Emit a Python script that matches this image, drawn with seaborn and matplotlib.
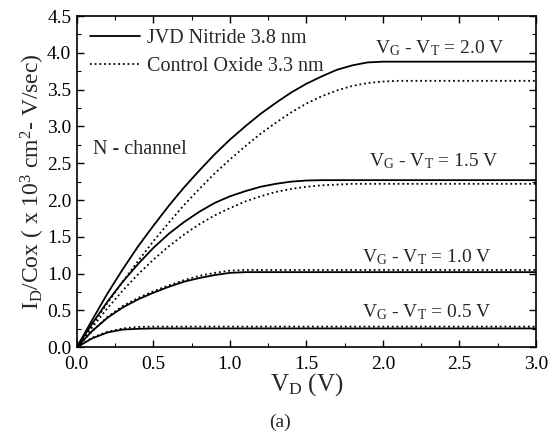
import numpy as np
import pandas as pd
import matplotlib
matplotlib.use("Agg")
import matplotlib.pyplot as plt
from matplotlib.ticker import MultipleLocator, FormatStrFormatter
import seaborn as sns

# Drain voltage grids (V)
vd_20n = [0, 0.1, 0.2, 0.3, 0.4, 0.5, 0.6, 0.7, 0.8, 0.9, 1.0, 1.1, 1.2, 1.3, 1.4,
          1.5, 1.6, 1.7, 1.8, 1.9, 2.0, 3.0]
vd_20o = [0, 0.1, 0.2, 0.3, 0.4, 0.5, 0.6, 0.7, 0.8, 0.9, 1.0, 1.1, 1.2, 1.3, 1.4,
          1.5, 1.6, 1.7, 1.8, 1.9, 2.0, 2.1, 3.0]
vd_15n = [0, 0.1, 0.2, 0.3, 0.4, 0.5, 0.6, 0.7, 0.8, 0.9, 1.0, 1.1, 1.2, 1.3, 1.4,
          1.5, 1.6, 3.0]
vd_15o = [0, 0.1, 0.2, 0.3, 0.4, 0.5, 0.6, 0.7, 0.8, 0.9, 1.0, 1.1, 1.2, 1.3, 1.4,
          1.5, 1.6, 1.7, 1.8, 3.0]
vd_10 = [0, 0.1, 0.2, 0.3, 0.4, 0.5, 0.6, 0.7, 0.8, 0.9, 1.0, 1.1, 3.0]
vd_05 = [0, 0.1, 0.2, 0.3, 0.4, 0.5, 3.0]

# I_D/Cox (x 10^3 cm^2-V/sec), JVD nitride 3.8 nm
nit_20 = [0, 0.37, 0.73, 1.06, 1.37, 1.65, 1.92, 2.17, 2.40, 2.62, 2.82, 3.00, 3.17,
          3.32, 3.46, 3.58, 3.68, 3.77, 3.83, 3.87, 3.88, 3.88]
nit_15 = [0, 0.32, 0.62, 0.89, 1.13, 1.35, 1.54, 1.70, 1.84, 1.96, 2.05, 2.12, 2.18,
          2.22, 2.25, 2.265, 2.27, 2.27]
nit_10 = [0, 0.22, 0.40, 0.54, 0.65, 0.74, 0.82, 0.89, 0.94, 0.98, 1.01, 1.02, 1.02]
nit_05 = [0, 0.12, 0.20, 0.24, 0.25, 0.255, 0.255]

# Control oxide 3.3 nm
ox_20 = [0, 0.30, 0.60, 0.89, 1.17, 1.44, 1.69, 1.93, 2.15, 2.36, 2.55, 2.73, 2.90,
         3.05, 3.19, 3.31, 3.41, 3.49, 3.55, 3.59, 3.61, 3.62, 3.62]
ox_15 = [0, 0.27, 0.53, 0.77, 0.99, 1.19, 1.37, 1.53, 1.67, 1.79, 1.89, 1.98, 2.05,
         2.11, 2.15, 2.18, 2.20, 2.21, 2.22, 2.22]
ox_10 = [0, 0.22, 0.41, 0.56, 0.67, 0.76, 0.84, 0.91, 0.97, 1.01, 1.04, 1.05, 1.05]
ox_05 = [0, 0.13, 0.21, 0.255, 0.275, 0.28, 0.28]

overdrive = ["2.0", "1.5", "1.0", "0.5"]
label_x = [2.37, 2.33, 2.29, 2.29]
label_y = [4.07, 2.53, 1.22, 0.48]
devices = ["JVD Nitride 3.8 nm", "Control Oxide 3.3 nm"]

frames = []
for vg, vn, yn, vo, yo in zip(overdrive,
                              [vd_20n, vd_15n, vd_10, vd_05],
                              [nit_20, nit_15, nit_10, nit_05],
                              [vd_20o, vd_15o, vd_10, vd_05],
                              [ox_20, ox_15, ox_10, ox_05]):
    frames.append(pd.DataFrame({"VD": vn, "I": yn, "device": devices[0], "vg": vg}))
    frames.append(pd.DataFrame({"VD": vo, "I": yo, "device": devices[1], "vg": vg}))
df = pd.concat(frames, ignore_index=True)

sns.set_theme(style="ticks")
plt.rcParams["font.family"] = ["Liberation Serif", "DejaVu Serif"]
plt.rcParams["mathtext.fontset"] = "custom"
plt.rcParams["mathtext.rm"] = "Liberation Serif"
plt.rcParams["mathtext.it"] = "Liberation Serif:italic"

fig = plt.figure(figsize=(5.53, 4.34), dpi=100)
ax = fig.add_axes([0.139, 0.200, 0.830, 0.763])

styles = {devices[0]: dict(linestyle="-", linewidth=1.3),
          devices[1]: dict(linestyle=(0, (1, 1.6)), linewidth=1.3)}

for (dev, vg), sub in df.groupby(["device", "vg"], sort=False):
    sns.lineplot(data=sub, x="VD", y="I", ax=ax, color="black",
                 label=dev if vg == "2.0" else None, estimator=None,
                 sort=False, **styles[dev])

for vg, xl, yl in zip(overdrive, label_x, label_y):
    ax.text(xl, yl, r"$\mathrm{V_G}$ - $\mathrm{V_T}$ = " + vg + " V",
            ha="center", va="center", fontsize=14)

ax.text(0.105, 2.63, "N - channel", fontsize=14.5, va="baseline")

ax.set_xlim(0, 3.0)
ax.set_ylim(0, 4.5)
ax.xaxis.set_major_locator(MultipleLocator(0.5))
ax.xaxis.set_minor_locator(MultipleLocator(0.25))
ax.yaxis.set_major_locator(MultipleLocator(0.5))
ax.yaxis.set_minor_locator(MultipleLocator(0.25))
ax.xaxis.set_major_formatter(FormatStrFormatter("%.1f"))
ax.yaxis.set_major_formatter(FormatStrFormatter("%.1f"))
ax.tick_params(which="both", direction="in", top=True, right=True,
               labelsize=14, colors="black")
ax.tick_params(which="major", length=5, width=1)
ax.tick_params(which="minor", length=3, width=0.8)
ax.tick_params(axis="x", which="major", pad=6)
ax.tick_params(axis="y", which="major", pad=4)
for s in ax.spines.values():
    s.set_visible(True)
    s.set_color("black")
    s.set_linewidth(1.2)

ax.set_xlabel(r"$\mathrm{V_D}$ (V)", fontsize=18, labelpad=-1)
ax.set_ylabel(r"$\mathrm{I_D}$/Cox ( x 10$^3$ cm$^2$- V/sec)", fontsize=17, labelpad=0)

leg = ax.legend(loc="upper left", frameon=False, fontsize=14.5, handlelength=2.5,
                borderaxespad=0.25, handletextpad=0.35, labelspacing=0.45)

fig.text(0.506, 0.026, "(a)", ha="center", va="center", fontsize=14)

fig.savefig("out.png", dpi=100, facecolor="white")
